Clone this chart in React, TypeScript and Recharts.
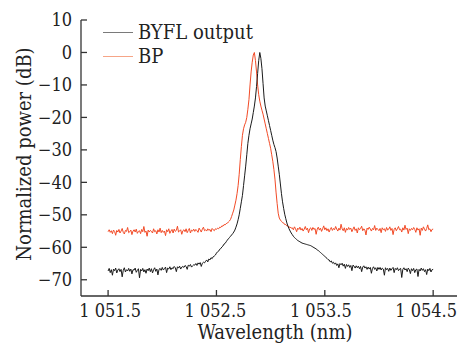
import { LineChart, Line, XAxis, YAxis, Legend, Label } from "recharts"

// spectrum sampling (nm)
const wlStart = 1051.5
const wlStep = 0.01

// BYFL output, dB, one row per 0.1 nm
const byflOutput = [
  -67.3, -66.5, -67.8, -66.9, -68.6, -66.7, -67.2, -66.4, -67.9, -67.0,
  -66.6, -67.5, -66.8, -69.1, -67.1, -66.3, -67.6, -66.9, -67.3, -66.5,
  -67.4, -66.7, -68.2, -66.9, -67.0, -66.4, -67.7, -67.1, -66.6, -69.4,
  -66.8, -67.3, -66.5, -67.6, -66.9, -68.0, -66.7, -67.2, -66.4, -67.5,
  -66.6, -67.9, -66.9, -66.3, -67.4, -66.7, -68.5, -66.8, -66.5, -67.1,
  -66.2, -67.0, -66.6, -66.1, -67.8, -66.4, -66.7, -66.0, -66.9, -66.3,
  -66.6, -65.9, -66.3, -67.5, -66.0, -66.4, -65.8, -66.7, -66.1, -65.9,
  -66.2, -65.6, -65.9, -66.8, -65.5, -65.8, -65.3, -66.1, -65.7, -65.4,
  -65.5, -65.0, -65.6, -64.8, -65.2, -64.7, -65.9, -64.9, -64.6, -64.8,
  -64.3, -63.9, -64.5, -63.6, -63.9, -63.2, -63.5, -62.9, -62.7, -62.4,
  -61.8, -61.4, -61.2, -60.6, -60.4, -59.9, -59.6, -59.0, -58.8, -58.3,
  -57.8, -57.4, -57.0, -56.6, -56.2, -55.8, -55.3, -54.7, -53.8, -52.8,
  -51.5, -50.0, -48.0, -46.0, -44.0, -41.0, -38.0, -35.0, -31.5, -28.0,
  -25.5, -23.5, -22.0, -20.5, -18.5, -16.5, -14.0, -10.5, -6.5, -2.5,
  0, -1.8, -5.0, -9.5, -14.0, -16.5, -18.0, -19.5, -21.0, -22.5,
  -24.0, -25.5, -27.0, -28.3, -29.3, -30.5, -32.5, -35.0, -37.5, -40.5,
  -43.5, -46.0, -48.0, -49.8, -51.2, -52.5, -53.5, -54.3, -55.0, -55.6,
  -56.1, -56.6, -57.0, -57.3, -57.6, -57.9, -58.1, -58.3, -58.5, -58.7,
  -58.8, -58.9, -59.0, -59.1, -59.2, -59.3, -59.4, -59.5, -59.7, -59.9,
  -60.1, -60.3, -60.5, -60.8, -61.0, -61.3, -61.6, -61.9, -62.2, -62.5,
  -62.8, -63.1, -63.4, -63.8, -63.9, -64.5, -64.2, -64.9, -64.6, -65.2,
  -64.8, -65.6, -65.1, -66.3, -65.0, -65.4, -64.9, -65.8, -65.2, -66.5,
  -65.3, -65.9, -65.4, -66.2, -65.6, -67.2, -65.5, -65.8, -66.4, -65.7,
  -66.3, -65.8, -66.6, -65.9, -67.5, -66.1, -65.7, -66.4, -66.0, -66.8,
  -66.1, -66.7, -66.2, -68.0, -66.5, -66.0, -66.8, -66.3, -67.3, -66.2,
  -66.8, -66.2, -67.0, -66.4, -66.7, -68.6, -66.3, -66.9, -66.5, -67.4,
  -66.4, -67.1, -66.6, -66.2, -67.8, -66.5, -66.9, -66.3, -67.2, -66.7,
  -66.5, -69.3, -66.8, -66.3, -67.0, -66.6, -67.5, -66.4, -66.9, -68.1,
  -66.6, -67.2, -66.5, -67.8, -66.9, -66.7, -69.0, -66.8, -67.3, -66.4,
  -67.1, -66.6, -67.5, -66.9, -68.4, -66.7, -67.2, -66.5, -67.6, -66.9,
  -66.8,
]

// BP filter, dB
const bpFilter = [
  -55.2, -54.6, -55.4, -54.9, -55.8, -54.7, -55.1, -56.3, -54.8, -55.3,
  -54.5, -55.6, -55.0, -54.2, -55.4, -55.9, -54.8, -55.1, -53.9, -55.5,
  -55.2, -54.7, -56.1, -55.0, -54.6, -55.3, -54.4, -55.7, -55.1, -54.9,
  -55.8, -54.5, -55.2, -53.6, -55.4, -55.0, -56.6, -54.7, -55.3, -54.8,
  -55.1, -55.6, -54.3, -55.2, -54.9, -55.9, -54.6, -55.3, -54.1, -55.5,
  -54.8, -55.4, -55.0, -56.4, -54.6, -55.2, -54.3, -55.7, -55.0, -54.5,
  -55.6, -54.4, -55.1, -54.8, -53.5, -55.3, -55.0, -54.6, -56.0, -54.9,
  -54.6, -55.2, -54.3, -55.5, -54.8, -54.2, -55.6, -54.7, -55.0, -54.4,
  -55.1, -54.5, -54.9, -55.4, -54.1, -54.7, -55.3, -54.4, -53.8, -54.9,
  -54.6, -55.0, -54.3, -54.8, -54.5, -55.2, -54.2, -54.6, -54.9, -54.3,
  -54.5, -54.1, -54.3, -53.8, -53.9, -53.4, -53.5, -53.0, -53.1, -52.7,
  -52.6, -52.2, -51.9, -51.4, -50.5, -49.5, -48.5, -47.0, -45.5, -43.5,
  -41.0, -37.5, -33.0, -29.0, -25.5, -23.5, -22.3, -21.5, -20.0, -17.5,
  -14.5, -10.0, -6.0, -3.0, -0.8, 0, -2.5, -6.0, -10.0, -13.0,
  -15.0, -16.5, -17.8, -19.0, -20.5, -22.0, -23.5, -25.0, -26.5, -28.0,
  -29.5, -31.5, -33.5, -36.0, -39.0, -43.0, -46.5, -49.5, -51.0, -51.6,
  -52.0, -52.4, -52.5, -53.0, -53.0, -53.4, -53.4, -53.8, -53.8, -54.1,
  -54.0, -54.6, -53.7, -54.3, -55.2, -54.1, -54.5, -53.8, -54.7, -54.2,
  -55.0, -54.4, -53.6, -54.6, -54.1, -55.5, -54.3, -54.0, -54.8, -53.9,
  -54.5, -54.2, -56.0, -54.4, -53.8, -54.7, -54.1, -55.1, -54.3, -53.4,
  -54.6, -54.0, -54.9, -54.3, -55.3, -54.5, -53.9, -54.8, -54.2, -54.6,
  -53.6, -54.4, -55.0, -54.1, -54.7, -52.9, -54.3, -54.9, -54.0, -55.4,
  -54.2, -54.7, -53.9, -54.5, -54.1, -55.2, -54.4, -53.7, -54.8, -54.3,
  -55.6, -54.0, -54.6, -54.2, -53.5, -54.9, -54.3, -54.7, -56.2, -54.1,
  -54.5, -53.8, -54.4, -55.0, -54.2, -54.6, -53.3, -54.8, -54.1, -54.5,
  -54.9, -54.2, -55.5, -54.0, -54.6, -54.3, -55.1, -53.9, -54.7, -54.4,
  -53.7, -54.8, -54.2, -56.1, -54.5, -54.0, -54.9, -54.3, -53.6, -54.6,
  -54.4, -55.3, -54.0, -54.7, -53.2, -54.5, -54.1, -55.8, -54.3, -54.8,
  -54.2, -54.6, -53.9, -54.5, -55.4, -54.0, -54.7, -54.3, -56.3, -54.1,
  -54.8, -53.7, -54.4, -55.0, -54.2, -53.1, -54.6, -54.3, -55.2, -54.5,
  -54.4,
]

const xTicks = [1051.5, 1052.5, 1053.5, 1054.5]
const xTickLabels = ["1 051.5", "1 052.5", "1 053.5", "1 054.5"]
const yTicks = [10, 0, -10, -20, -30, -40, -50, -60, -70]
const seriesNames = ["BYFL output", "BP"]

const data = byflOutput.map((v, i) => ({
  wl: +(wlStart + i * wlStep).toFixed(2),
  byfl: v,
  bp: bpFilter[i],
}))

const font = "'DejaVu Serif Condensed', 'DejaVu Serif', serif"
const textColor = "#222"
const axisColor = "#333"
const legendColors = ["#7a7a7a", "#f6a587"]
// small horizontal nudges of the x tick labels, as in the original figure
const xLabelNudge = [2, -1, -4, -7]

function XTick(props: any) {
  const { x, y, index } = props
  return (
    <text x={x + xLabelNudge[index]} y={y} dy="0.71em" textAnchor="middle" fill={textColor} fontSize={18} fontFamily={font}>
      {xTickLabels[index]}
    </text>
  )
}

function LegendBox() {
  return (
    <div style={{ fontFamily: font, fontSize: 20, color: textColor }}>
      {seriesNames.map((name, i) => (
        <div key={name} style={{ display: "flex", alignItems: "center", height: 24 }}>
          <div style={{ width: 30, borderTop: `1.5px solid ${legendColors[i]}`, marginRight: 5 }} />
          <span>{name}</span>
        </div>
      ))}
    </div>
  )
}

export default function App() {
  return (
    <div style={{ position: "absolute", left: 0, top: 0, background: "#fff" }}>
      <LineChart width={459} height={347} data={data} margin={{ top: 20, right: 2, bottom: 0, left: 0 }}>
        <XAxis
          type="number"
          dataKey="wl"
          domain={[1051.25, 1054.72]}
          ticks={xTicks}
          allowDataOverflow
          height={51}
          tickSize={-6}
          tickMargin={14}
          stroke={axisColor}
          strokeWidth={1.3}
          tick={<XTick />}
        >
          <Label
            content={() => (
              <text x={275} y={339} textAnchor="middle" fill={textColor} fontSize={20} fontFamily={font}>
                Wavelength (nm)
              </text>
            )}
          />
        </XAxis>
        <YAxis
          type="number"
          domain={[-75, 10]}
          ticks={yTicks}
          tickFormatter={(v) => (v < 0 ? "\u2212" + Math.abs(v) : String(v))}
          allowDataOverflow
          width={81}
          tickSize={-6}
          tickMargin={15}
          stroke={axisColor}
          strokeWidth={1.3}
          tick={{ fill: textColor, fontSize: 18, fontFamily: font }}
        >
          <Label
            content={() => (
              <text
                x={31}
                y={154}
                transform="rotate(-90 31 154)"
                textAnchor="middle"
                fill={textColor}
                fontSize={20}
                fontFamily={font}
              >
                Normalized power (dB)
              </text>
            )}
          />
        </YAxis>
        <Legend
          layout="vertical"
          align="center"
          verticalAlign="middle"
          wrapperStyle={{ left: 103, top: 20, width: "auto", height: "auto" }}
          content={() => <LegendBox />}
        />
        <Line type="linear" dataKey="bp" name="BP" stroke="#f24a26" strokeWidth={1} dot={false} isAnimationActive={false} />
        <Line type="linear" dataKey="byfl" name="BYFL output" stroke="#1a1a1a" strokeWidth={1} dot={false} isAnimationActive={false} />
      </LineChart>
    </div>
  )
}
